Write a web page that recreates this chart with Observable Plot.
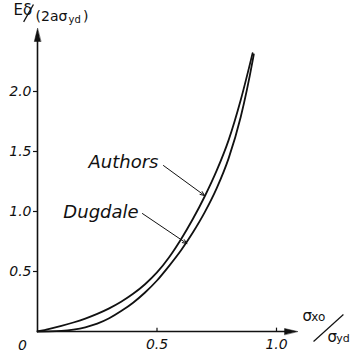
<!DOCTYPE html>
<html><head><meta charset="utf-8">
<script src="https://cdn.jsdelivr.net/npm/d3@7"></script>
<script src="https://cdn.jsdelivr.net/npm/@observablehq/plot@0.6"></script>
<style>body{margin:0;background:#fff}</style>
</head><body><div id="chart"></div>
<script>
// Curve data (x = σxo/σyd, y = Eδ/(2aσyd))
const authorsX = [0, 0.05, 0.1, 0.15, 0.2, 0.25, 0.3, 0.35, 0.4, 0.45, 0.5, 0.55, 0.6, 0.65, 0.7, 0.75, 0.8, 0.85, 0.9];
const authorsY = [0, 0.022, 0.047, 0.075, 0.108, 0.147, 0.193, 0.248, 0.314, 0.394, 0.492, 0.617, 0.767, 0.937, 1.127, 1.342, 1.597, 1.927, 2.32];
const dugdaleX = [0, 0.05, 0.1, 0.15, 0.2, 0.25, 0.3, 0.35, 0.4, 0.45, 0.5, 0.55, 0.6, 0.65, 0.7, 0.75, 0.8, 0.85, 0.9, 0.905];
const dugdaleY = [0, 0.001, 0.005, 0.016, 0.035, 0.065, 0.11, 0.17, 0.24, 0.325, 0.425, 0.545, 0.675, 0.825, 0.995, 1.195, 1.445, 1.785, 2.255, 2.31];

const xTicks = [0.5, 1.0];
const xTickLabels = ["0.5", "1.0"];
const yTicks = [0.5, 1.0, 1.5, 2.0];
const yTickLabels = ["0.5", "1.0", "1.5", "2.0"];
const seriesNames = ["Authors", "Dugdale"];

const authors = authorsX.map((x, i) => ({x, y: authorsY[i]}));
const dugdale = dugdaleX.map((x, i) => ({x, y: dugdaleY[i]}));

const font = "'DejaVu Sans', sans-serif";
const headShape = {
  draw(ctx, l, r) {
    ctx.moveTo(0, -l);
    ctx.lineTo(-r, 0);
    ctx.lineTo(r, 0);
    ctx.closePath();
  }
};

const chart = Plot.plot({
  width: 353,
  height: 358,
  marginLeft: 37,
  marginBottom: 27,
  marginTop: 10,
  marginRight: 10,
  style: {fontFamily: font, fontStyle: "italic", fontSize: "14px", color: "#111", background: "#fff"},
  x: {domain: [0, 1], range: [37, 276]},
  y: {domain: [0, 2], range: [331, 91]},
  marks: [
    // axes lines
    Plot.ruleY([0], {x1: 0, x2: 1.06, stroke: "#111", strokeWidth: 1.5}),
    Plot.ruleX([0], {y1: 0, y2: 2.45, stroke: "#111", strokeWidth: 1.6}),
    Plot.vector([{x: 1.088, y: 0}], {x: "x", y: "y", length: 13, r: 3, rotate: 90, anchor: "end", shape: headShape, fill: "#111", stroke: "#111", strokeWidth: 0.5}),
    Plot.vector([{x: 0, y: 2.525}], {x: "x", y: "y", length: 13, r: 3.2, rotate: 0, anchor: "end", shape: headShape, fill: "#111", stroke: "#111", strokeWidth: 0.5}),
    // y axis ticks + labels
    Plot.axisY({ticks: yTicks, tickSize: 4, tickPadding: 2, tickFormat: d => yTickLabels[yTicks.indexOf(d)], label: null, stroke: "#111", strokeWidth: 1.2}),
    // x axis labels, ticks pointing up
    Plot.axisX({ticks: xTicks, tickSize: 0, tickPadding: 8, tickFormat: d => xTickLabels[xTicks.indexOf(d)], label: null}),
    Plot.ruleX(xTicks, {y1: 0, y2: 0.028, stroke: "#111", strokeWidth: 1.2}),
    Plot.text([0], {x: 0, y: 0, text: () => "0", dx: -15, dy: 14, fontSize: 14}),
    // curves
    Plot.line(authors, {x: "x", y: "y", curve: "monotone-x", stroke: "#111", strokeWidth: 1.8}),
    Plot.line(dugdale, {x: "x", y: "y", curve: "monotone-x", stroke: "#111", strokeWidth: 1.8}),
    // series labels and leader arrows
    Plot.text([seriesNames[0]], {x: 0.506, y: 1.408, text: d => d, textAnchor: "end", fontSize: 18, letterSpacing: 1}),
    Plot.text([seriesNames[1]], {x: 0.423, y: 0.99, text: d => d, textAnchor: "end", fontSize: 18}),
    Plot.arrow([{x1: 0.527, y1: 1.383, x2: 0.699, y2: 1.133}, {x1: 0.439, y1: 0.983, x2: 0.625, y2: 0.733}],
      {x1: "x1", y1: "y1", x2: "x2", y2: "y2", headLength: 7, headAngle: 45, stroke: "#111", strokeWidth: 1}),
    // y axis title: Eδ/(2aσyd)
    Plot.text(["Eδ"], {x: -0.1, y: 2.675, text: d => d, textAnchor: "start", fontSize: 15, fontStyle: "normal"}),
    Plot.link([{x1: -0.058, y1: 2.58, x2: -0.017, y2: 2.725}], {x1: "x1", y1: "y1", x2: "x2", y2: "y2", stroke: "#111", strokeWidth: 1.3}),
    Plot.text(["(2aσ"], {x: -0.008, y: 2.625, text: d => d, textAnchor: "start", fontSize: 14, fontStyle: "normal", letterSpacing: 1}),
    Plot.text(["yd"], {x: 0.13, y: 2.6, text: d => d, textAnchor: "start", fontSize: 10, fontStyle: "normal"}),
    Plot.text([")"], {x: 0.19, y: 2.625, text: d => d, textAnchor: "start", fontSize: 14, fontStyle: "normal"}),
    // x axis title: σxo/σyd
    Plot.text(["σ"], {x: 1.109, y: 0.13, text: d => d, textAnchor: "start", fontSize: 15, fontStyle: "normal"}),
    Plot.text(["xo"], {x: 1.145, y: 0.12, text: d => d, textAnchor: "start", fontSize: 12, fontStyle: "normal"}),
    Plot.link([{x1: 1.155, y1: -0.083, x2: 1.28, y2: 0.142}], {x1: "x1", y1: "y1", x2: "x2", y2: "y2", stroke: "#111", strokeWidth: 1.2}),
    Plot.text(["σ"], {x: 1.213, y: -0.05, text: d => d, textAnchor: "start", fontSize: 15, fontStyle: "normal"}),
    Plot.text(["yd"], {x: 1.25, y: -0.06, text: d => d, textAnchor: "start", fontSize: 11, fontStyle: "normal"})
  ]
});
document.getElementById("chart").appendChild(chart);
</script>
</body></html>
